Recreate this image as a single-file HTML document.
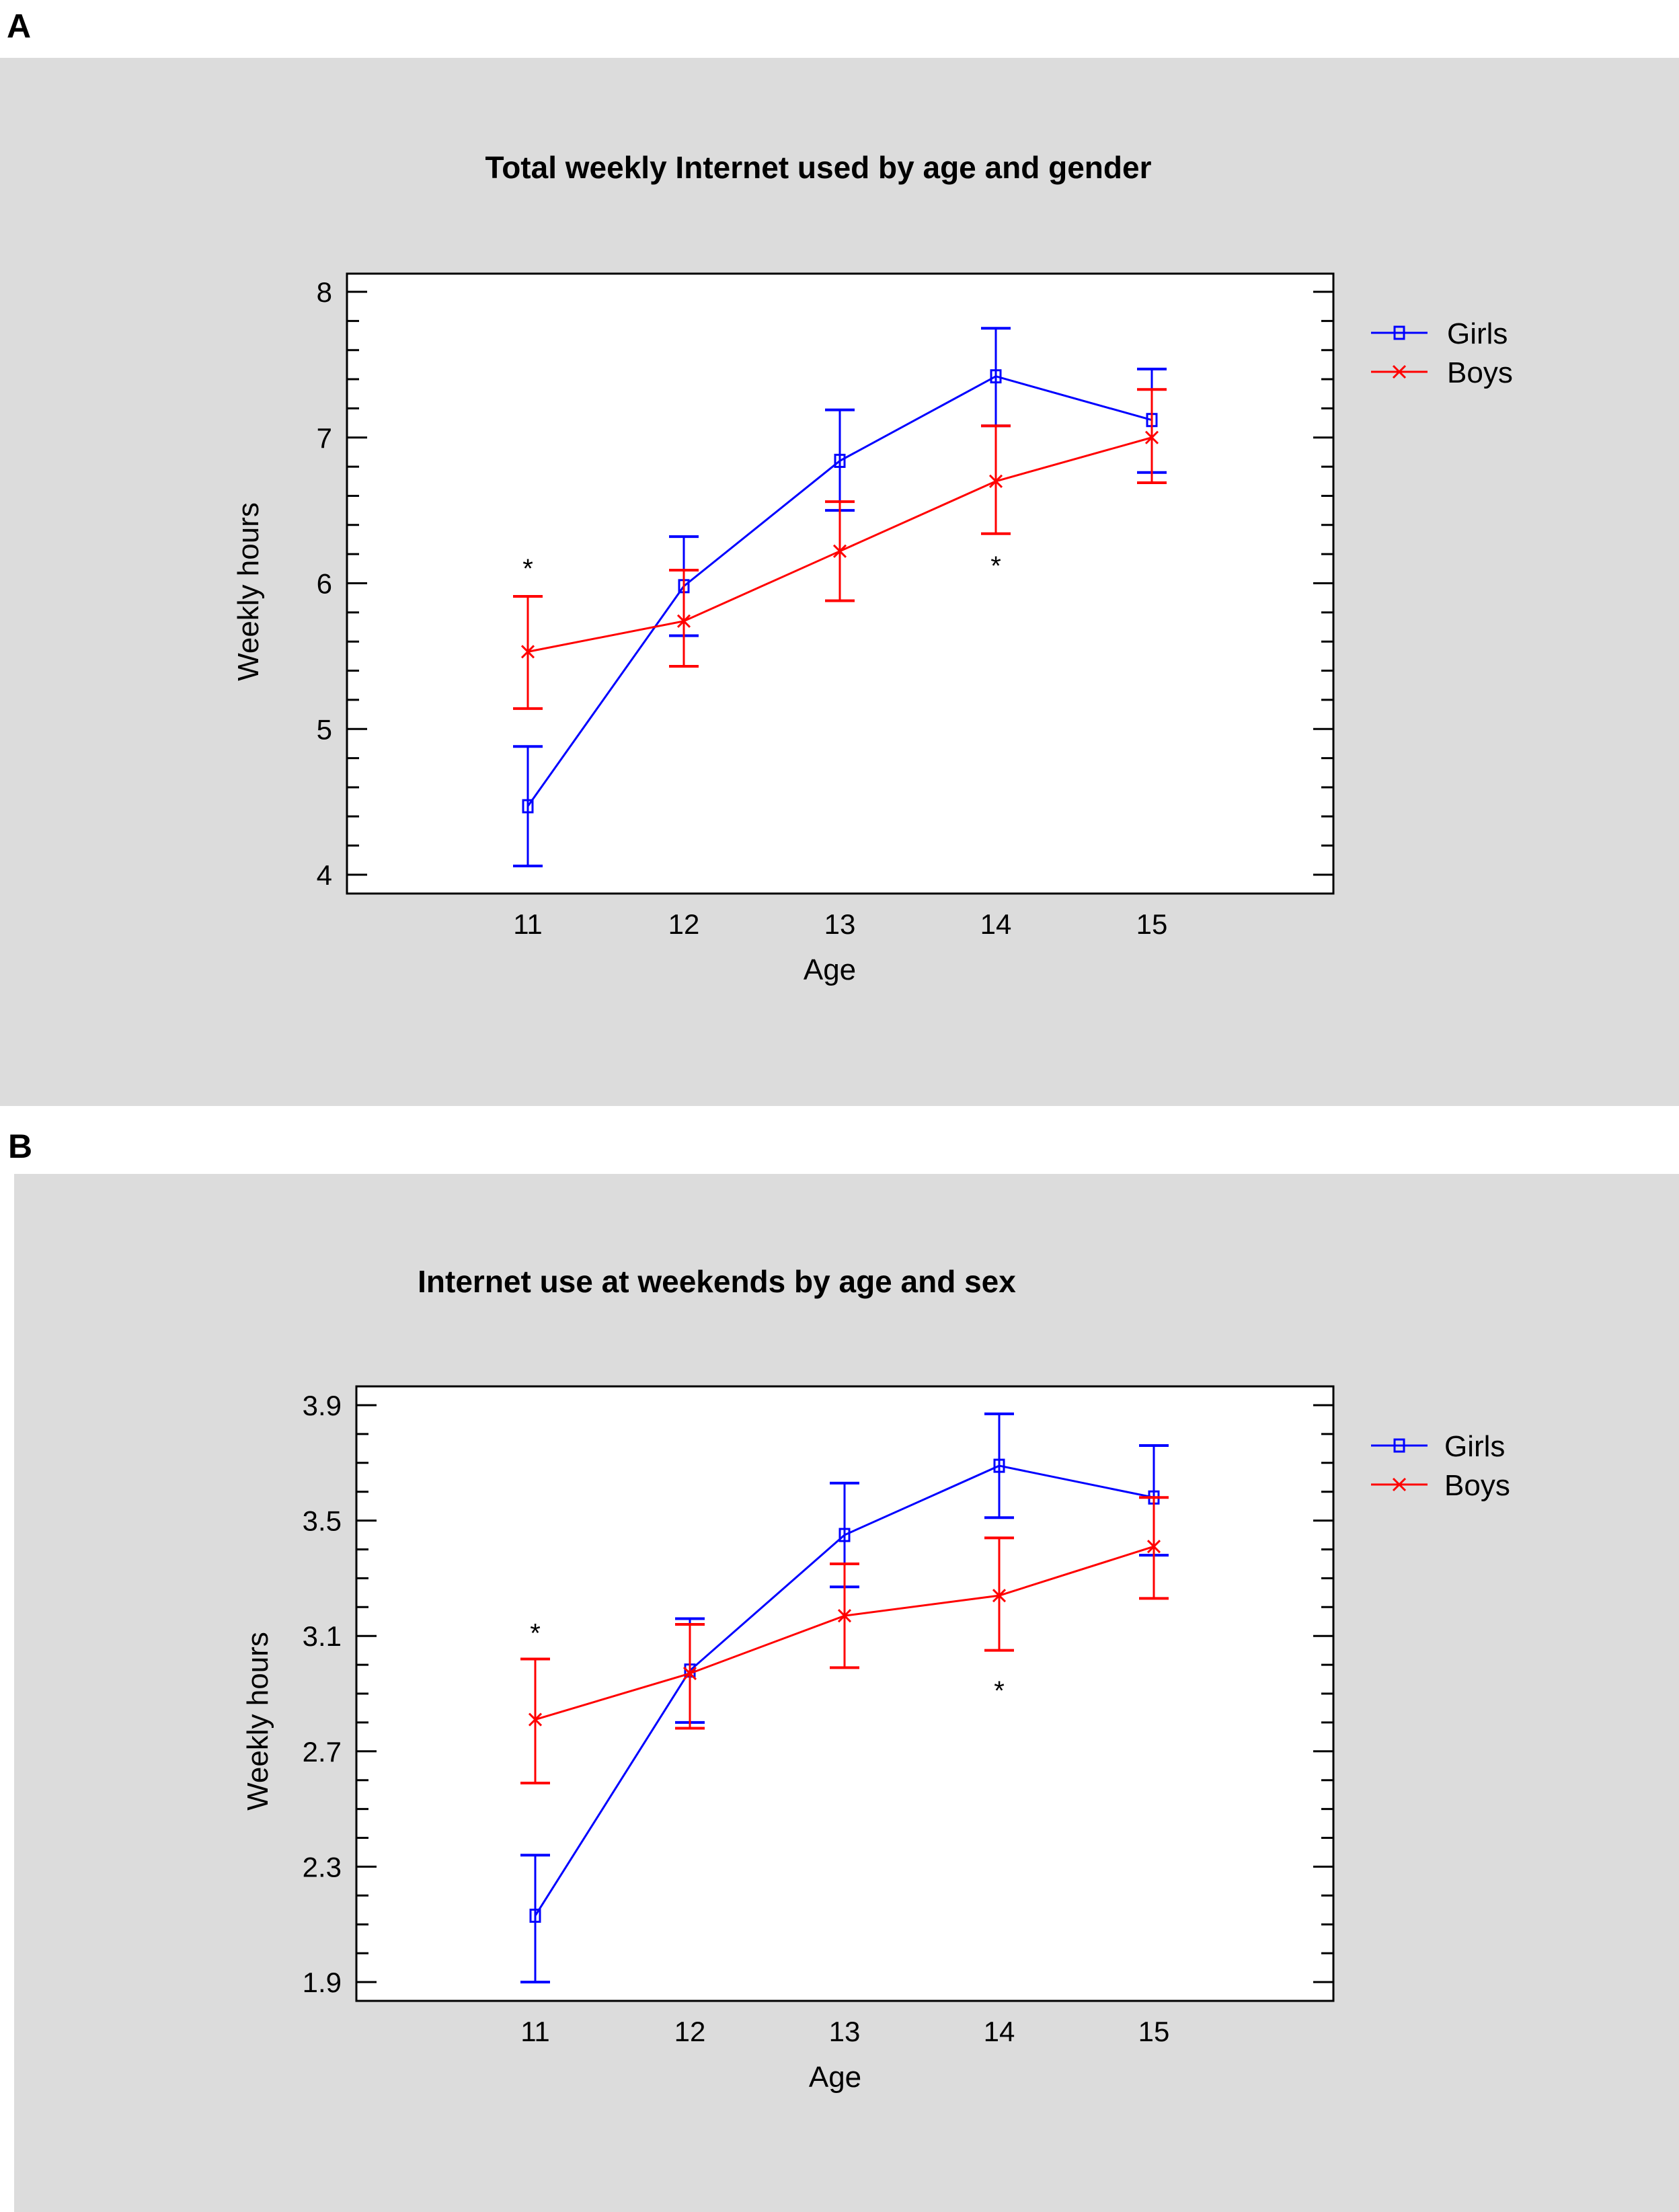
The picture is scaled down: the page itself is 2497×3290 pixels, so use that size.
<!DOCTYPE html>
<html><head><meta charset="utf-8"><style>
html,body{margin:0;padding:0;background:#fff;}
svg{display:block;font-family:"Liberation Sans",Arial,sans-serif;}
</style></head><body>
<svg id="s" width="2497" height="3290" viewBox="0 0 2497 3290" xmlns="http://www.w3.org/2000/svg">
<rect x="0" y="86" width="2497" height="1559" fill="#dcdcdc"/>
<rect x="21" y="1746" width="2476" height="1544" fill="#dcdcdc"/>
<text x="10" y="56" font-size="50" font-weight="bold">A</text>
<text x="12" y="1722" font-size="50" font-weight="bold">B</text>
</svg>
<script>
const ages = [11,12,13,14,15];
const aGirls = [4.47,5.98,6.84,7.42,7.12];
const aGirlsLo = [4.06,5.64,6.50,7.08,6.76];
const aGirlsHi = [4.88,6.32,7.19,7.75,7.47];
const aBoys = [5.53,5.74,6.22,6.70,7.00];
const aBoysLo = [5.14,5.43,5.88,6.34,6.69];
const aBoysHi = [5.91,6.09,6.56,7.08,7.33];
const aStars = [[11,6.14],[14,6.16]];
const aTicks = [4,5,6,7,8];
const bGirls = [2.13,2.98,3.45,3.69,3.58];
const bGirlsLo = [1.90,2.80,3.27,3.51,3.38];
const bGirlsHi = [2.34,3.16,3.63,3.87,3.76];
const bBoys = [2.81,2.97,3.17,3.24,3.41];
const bBoysLo = [2.59,2.78,2.99,3.05,3.23];
const bBoysHi = [3.02,3.14,3.35,3.44,3.58];
const bStars = [[11,3.13],[14,2.93]];
const bTicks = [1.9,2.3,2.7,3.1,3.5,3.9];

const NS="http://www.w3.org/2000/svg";
const svg=document.getElementById('s');
function el(tag,attrs,parent){const e=document.createElementNS(NS,tag);for(const k in attrs)e.setAttribute(k,attrs[k]);(parent||svg).appendChild(e);return e;}

function panel(cfg){
  const g=el('g',{});
  
  
  const X=v=>cfg.x11+(v-11)*(cfg.x15-cfg.x11)/4;
  const Y=v=>cfg.yLo+(v-cfg.vLo)*(cfg.yHi-cfg.yLo)/(cfg.vHi-cfg.vLo);
  const t=el('text',{x:cfg.titleX,y:cfg.titleY,'font-size':46,'font-weight':'bold','text-anchor':'middle'},g);
  t.textContent=cfg.title;
  
  
  const box=el('rect',{x:cfg.L,y:cfg.T,width:cfg.R-cfg.L,height:cfg.B-cfg.T,fill:'#fff',stroke:'#000','stroke-width':3},g);
  
  
  // minor ticks
  const n=Math.round((cfg.vHi-cfg.vLo)/cfg.minor);
  for(let i=0;i<=n;i++){
    const v=cfg.vLo+i*cfg.minor;const y=Y(v);
    const major=cfg.ticks.some(tv=>Math.abs(tv-v)<1e-6);
    const len=major?30:18;
    el('line',{x1:cfg.L,x2:cfg.L+len,y1:y,y2:y,stroke:'#000','stroke-width':3},g);
    el('line',{x1:cfg.R,x2:cfg.R-len,y1:y,y2:y,stroke:'#000','stroke-width':3},g);
  }
  cfg.ticks.forEach(v=>{
    const tx=el('text',{x:cfg.L-22,y:Y(v)+15,'font-size':42,'text-anchor':'end'},g);
    tx.textContent=cfg.fmt(v);
    
    
  });
  ages.forEach(a=>{
    const tx=el('text',{x:X(a),y:cfg.B+60,'font-size':42,'text-anchor':'middle'},g);
    tx.textContent=a;
    
    
  });
  const xt=el('text',{x:cfg.ageX,y:cfg.B+128,'font-size':44,'text-anchor':'middle'},g);
  xt.textContent='Age';
  
  
  const yt=el('text',{x:0,y:0,'font-size':44,'text-anchor':'middle',transform:`translate(${cfg.ytX},${cfg.ytY}) rotate(-90)`},g);
  yt.textContent='Weekly hours';
  
  
  function series(vals,lo,hi,color,mk,name){
    const sg=el('g',{},g);
    
    
    el('polyline',{points:vals.map((v,i)=>X(ages[i])+','+Y(v)).join(' '),fill:'none',stroke:color,'stroke-width':3},sg);
    vals.forEach((v,i)=>{
      const x=X(ages[i]);
      el('line',{x1:x,x2:x,y1:Y(lo[i]),y2:Y(hi[i]),stroke:color,'stroke-width':3},sg);
      el('line',{x1:x-22,x2:x+22,y1:Y(lo[i]),y2:Y(lo[i]),stroke:color,'stroke-width':4},sg);
      el('line',{x1:x-22,x2:x+22,y1:Y(hi[i]),y2:Y(hi[i]),stroke:color,'stroke-width':4},sg);
      marker(sg,x,Y(v),color,mk);
    });
  }
  function marker(p,x,y,color,mk){
    if(mk==='sq') el('rect',{x:x-7,y:y-9,width:14,height:18,fill:'none',stroke:color,'stroke-width':3},p);
    else {el('line',{x1:x-9,y1:y-9,x2:x+9,y2:y+9,stroke:color,'stroke-width':3},p);el('line',{x1:x-9,y1:y+9,x2:x+9,y2:y-9,stroke:color,'stroke-width':3},p);}
  }
  series(cfg.girls,cfg.girlsLo,cfg.girlsHi,'#0000ff','sq','girls');
  series(cfg.boys,cfg.boysLo,cfg.boysHi,'#ff0000','x','boys');
  cfg.stars.forEach(s=>{
    const st=el('text',{x:X(s[0]),y:Y(s[1])+22,'font-size':40,'text-anchor':'middle'},g);
    st.textContent='*';
    
    
  });
  [['Girls','#0000ff','sq',cfg.legY1],['Boys','#ff0000','x',cfg.legY2]].forEach(l=>{
    const lg=el('g',{},g);
    
    
    el('line',{x1:2039,x2:2123,y1:l[3],y2:l[3],stroke:l[1],'stroke-width':3},lg);
    marker(lg,2081,l[3],l[1],l[2]);
    const tx=el('text',{x:cfg.legTX,y:l[3]+16,'font-size':44},lg);
    tx.textContent=l[0];
  });
}
panel({id:'panel-a',title:'Total weekly Internet used by age and gender',titleX:1217,titleY:265,
  L:516,R:1983,T:407,B:1329,x11:785,x15:1713,vLo:4,vHi:8,yLo:1301,yHi:434,minor:0.2,ticks:aTicks,fmt:v=>String(v),
  ageX:1234,ytX:384,ytY:880,girls:aGirls,girlsLo:aGirlsLo,girlsHi:aGirlsHi,boys:aBoys,boysLo:aBoysLo,boysHi:aBoysHi,
  stars:aStars,legY1:495,legY2:553,legTX:2152});
panel({id:'panel-b',title:'Internet use at weekends by age and sex',titleX:1066,titleY:1922,
  L:530,R:1983,T:2062,B:2976,x11:796,x15:1716,vLo:1.9,vHi:3.9,yLo:2948,yHi:2090,minor:0.1,ticks:bTicks,fmt:v=>v.toFixed(1),
  ageX:1242,ytX:398,ytY:2560,girls:bGirls,girlsLo:bGirlsLo,girlsHi:bGirlsHi,boys:bBoys,boysLo:bBoysLo,boysHi:bBoysHi,
  stars:bStars,legY1:2150,legY2:2208,legTX:2148});
</script>
</body></html>
